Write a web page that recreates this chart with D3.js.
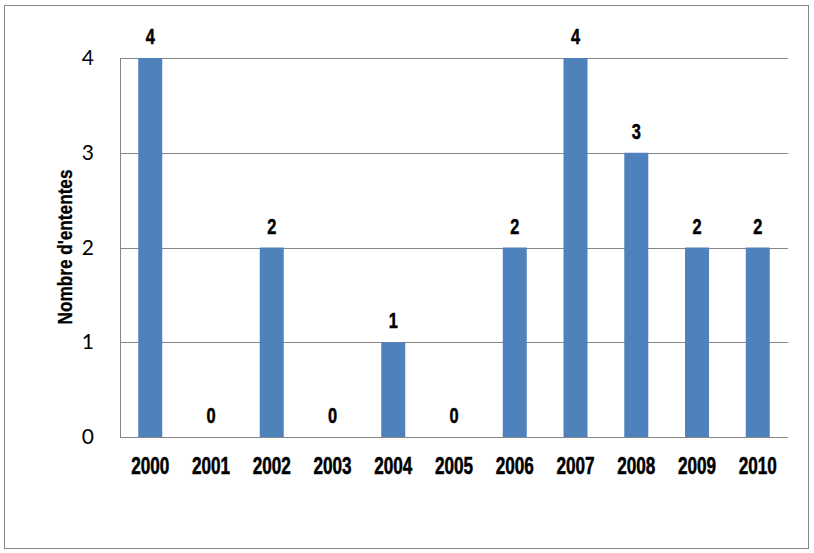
<html>
<head>
<style>
  body { margin: 0; background: #fff; }
  text.narrow { font-family: "Liberation Sans", Arial, sans-serif; font-weight: bold; stroke: #000; stroke-width: 0.5px; }
  g.yax text { font-family: Lato, "Open Sans", sans-serif; }
</style>
</head>
<body>
<script src="https://cdnjs.cloudflare.com/ajax/libs/d3/7.8.5/d3.min.js"></script>
<script>
var years = ["2000","2001","2002","2003","2004","2005","2006","2007","2008","2009","2010"];
var ententes = [4, 0, 2, 0, 1, 0, 2, 4, 3, 2, 2];
var yTicks = [0, 1, 2, 3, 4];

var width = 814, height = 553;
var plot = {left: 120, top: 58, right: 788, bottom: 437};
var squeeze = "scale(0.78,1.06)";

var svg = d3.select("body").append("svg")
    .attr("width", width)
    .attr("height", height);

// outer frame
svg.append("rect")
    .attr("x", 4.5).attr("y", 5.5)
    .attr("width", 804).attr("height", 543)
    .attr("fill", "#fff")
    .attr("stroke", "#868686")
    .attr("stroke-width", 1);

var x = d3.scaleBand()
    .domain(years)
    .range([plot.left, plot.right])
    .paddingInner(0.605)
    .paddingOuter(0.3);

var y = d3.scaleLinear()
    .domain([0, 4])
    .range([plot.bottom, plot.top]);

// gridlines
svg.append("g")
  .selectAll("line")
  .data(yTicks)
  .enter().append("line")
    .attr("x1", plot.left).attr("x2", plot.right)
    .attr("y1", function(d) { return Math.round(y(d)) + 0.5; })
    .attr("y2", function(d) { return Math.round(y(d)) + 0.5; })
    .attr("stroke", "#868686")
    .attr("stroke-width", 1);

// left axis line
svg.append("line")
    .attr("x1", plot.left + 0.5).attr("x2", plot.left + 0.5)
    .attr("y1", plot.top).attr("y2", plot.bottom)
    .attr("stroke", "#868686");

// y tick labels
var yAxis = svg.append("g")
    .attr("class", "yax")
    .attr("transform", "translate(" + plot.left + ",0)")
    .call(d3.axisLeft(y).tickValues(yTicks).tickSize(0).tickPadding(26).tickFormat(d3.format("d")));
yAxis.select(".domain").remove();
yAxis.selectAll("text")
    .attr("font-size", 21)
    .attr("fill", "#000");

// bars
svg.append("g")
  .selectAll("rect")
  .data(ententes)
  .enter().append("rect")
    .attr("x", function(d, i) { return x(years[i]); })
    .attr("y", function(d) { return y(d); })
    .attr("width", x.bandwidth())
    .attr("height", function(d) { return y(0) - y(d); })
    .attr("fill", "#4F81BD");

// value labels
svg.append("g")
  .selectAll("g")
  .data(ententes)
  .enter().append("g")
    .attr("transform", function(d, i) {
      return "translate(" + (x(years[i]) + x.bandwidth() / 2) + "," + (y(d) - 14) + ")";
    })
  .append("text")
    .attr("class", "narrow")
    .attr("transform", squeeze)
    .attr("text-anchor", "middle")
    .attr("font-size", 21)
    .text(function(d) { return d; });

// x labels
var xAxis = svg.append("g")
    .attr("transform", "translate(0," + plot.bottom + ")")
    .call(d3.axisBottom(x).tickSize(0).tickPadding(19));
xAxis.select(".domain").remove();
xAxis.selectAll("text")
    .attr("class", "narrow")
    .attr("transform", squeeze)
    .attr("font-size", 22)
    .attr("fill", "#000");

// y axis title
svg.append("g")
    .attr("transform", "translate(72,247) rotate(-90)")
  .append("text")
    .attr("class", "narrow")
    .attr("transform", "scale(0.86,1)")
    .attr("text-anchor", "middle")
    .attr("font-size", 20)
    .style("stroke-width", "0.3px")
    .text("Nombre d'ententes");
</script>
</body>
</html>
